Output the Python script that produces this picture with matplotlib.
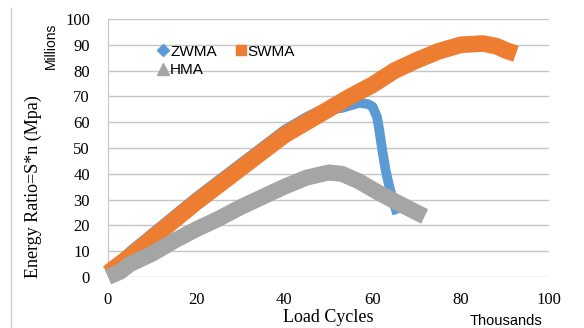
import matplotlib
matplotlib.use("Agg")
import matplotlib.pyplot as plt
from matplotlib.lines import Line2D

# values (x in thousands of cycles, y in millions)
zwma_x = [0, 5, 10, 15, 20, 25, 30, 35, 40, 45, 48, 50, 53, 55, 57, 59, 60,
          61, 61.5, 62.3, 63, 63.8, 64.9, 65.6]
zwma_y = [1.5, 10, 17, 24, 31, 37.5, 44, 50.5, 57, 62, 64.5, 65, 65.5,
          66.5, 67.5, 67, 66, 62, 57, 48, 41, 35, 28, 24.5]

swma_x = [0, 5, 10, 15, 20, 25, 30, 35, 40, 45, 50, 55, 60, 65, 70, 75, 80,
          85, 88, 90, 92.5]
swma_y = [1.5, 8, 15, 22, 29, 35.5, 42, 48.5, 55, 60, 65, 70, 74.5, 80, 84,
          87.5, 90, 90.5, 89.5, 88, 86.5]

hma_x = [0, 2.7, 5, 10, 15, 20, 25, 30, 35, 40, 45, 50, 53, 57, 61, 66, 70,
         71.8]
hma_y = [0, 2, 5, 9, 14, 18.5, 22.5, 27, 31, 35, 38.5, 40.5, 40, 37, 33,
         28.5, 25, 23.5]

x_ticks = [0, 20, 40, 60, 80, 100]
y_ticks = list(range(0, 101, 10))

BLUE = "#5B9BD5"
ORANGE = "#ED7D31"
GRAY = "#A5A5A5"
GRID = "#C6C6C6"

fig = plt.figure(figsize=(5.84, 3.28), dpi=100)
ax = fig.add_axes([108 / 584, 1 - 277 / 328, 441 / 584, 258 / 328])

ax.plot(zwma_x, zwma_y, color=BLUE, lw=7, solid_joinstyle="round",
        solid_capstyle="butt", clip_on=False, zorder=3)
ax.plot(swma_x, swma_y, color=ORANGE, lw=12, solid_joinstyle="round",
        solid_capstyle="butt", clip_on=False, zorder=4)
ax.plot(hma_x, hma_y, color=GRAY, lw=11.5, solid_joinstyle="round",
        solid_capstyle="butt", clip_on=False, zorder=5)

ax.set_xlim(0, 100)
ax.set_ylim(0, 100)
ax.set_xticks(x_ticks)
ax.set_yticks(y_ticks)
ax.tick_params(length=0, labelsize=12, pad=11)
ax.tick_params(axis="y", pad=13)
for lab in ax.get_xticklabels() + ax.get_yticklabels():
    lab.set_family("Liberation Serif")

ax.grid(axis="y", color=GRID, lw=1)
ax.set_axisbelow(True)
for s in ["top", "right", "bottom"]:
    ax.spines[s].set_visible(False)
ax.spines["left"].set_color(GRID)

handles = [
    Line2D([], [], marker="D", color=BLUE, ls="none", markersize=6),
    Line2D([], [], marker="^", color=GRAY, ls="none", markersize=8),
    Line2D([], [], marker="s", color=ORANGE, ls="none", markersize=7),
]
ax.legend(handles, ["ZWMA", "HMA", "SWMA"], ncol=2, frameon=False,
          loc="upper left", bbox_to_anchor=(0.096, 0.93),
          prop={"family": "Liberation Sans", "size": 11},
          handlelength=0.7, handletextpad=0.1, columnspacing=1.2,
          labelspacing=0.3, borderpad=0)

fig.text(33 / 584, 1 - 187 / 328, "Energy Ratio=S*n (Mpa)", rotation=90,
         ha="center", va="center", family="Liberation Serif", fontsize=13)
fig.text(51 / 584, 1 - 46 / 328, "Millions", rotation=90, ha="center",
         va="center", family="Liberation Sans", fontsize=10)
fig.text(328 / 584, 1 - 318 / 328, "Load Cycles", ha="center", va="center",
         family="Liberation Serif", fontsize=13)
fig.text(506 / 584, 1 - 325 / 328, "Thousands", ha="center", va="baseline",
         family="Liberation Sans", fontsize=10.5)

fig.add_artist(Line2D([11 / 584, 11 / 584], [0, 1 - 8 / 328], color="#D0D0D0",
                      lw=1))

fig.savefig("out.png", dpi=100)
